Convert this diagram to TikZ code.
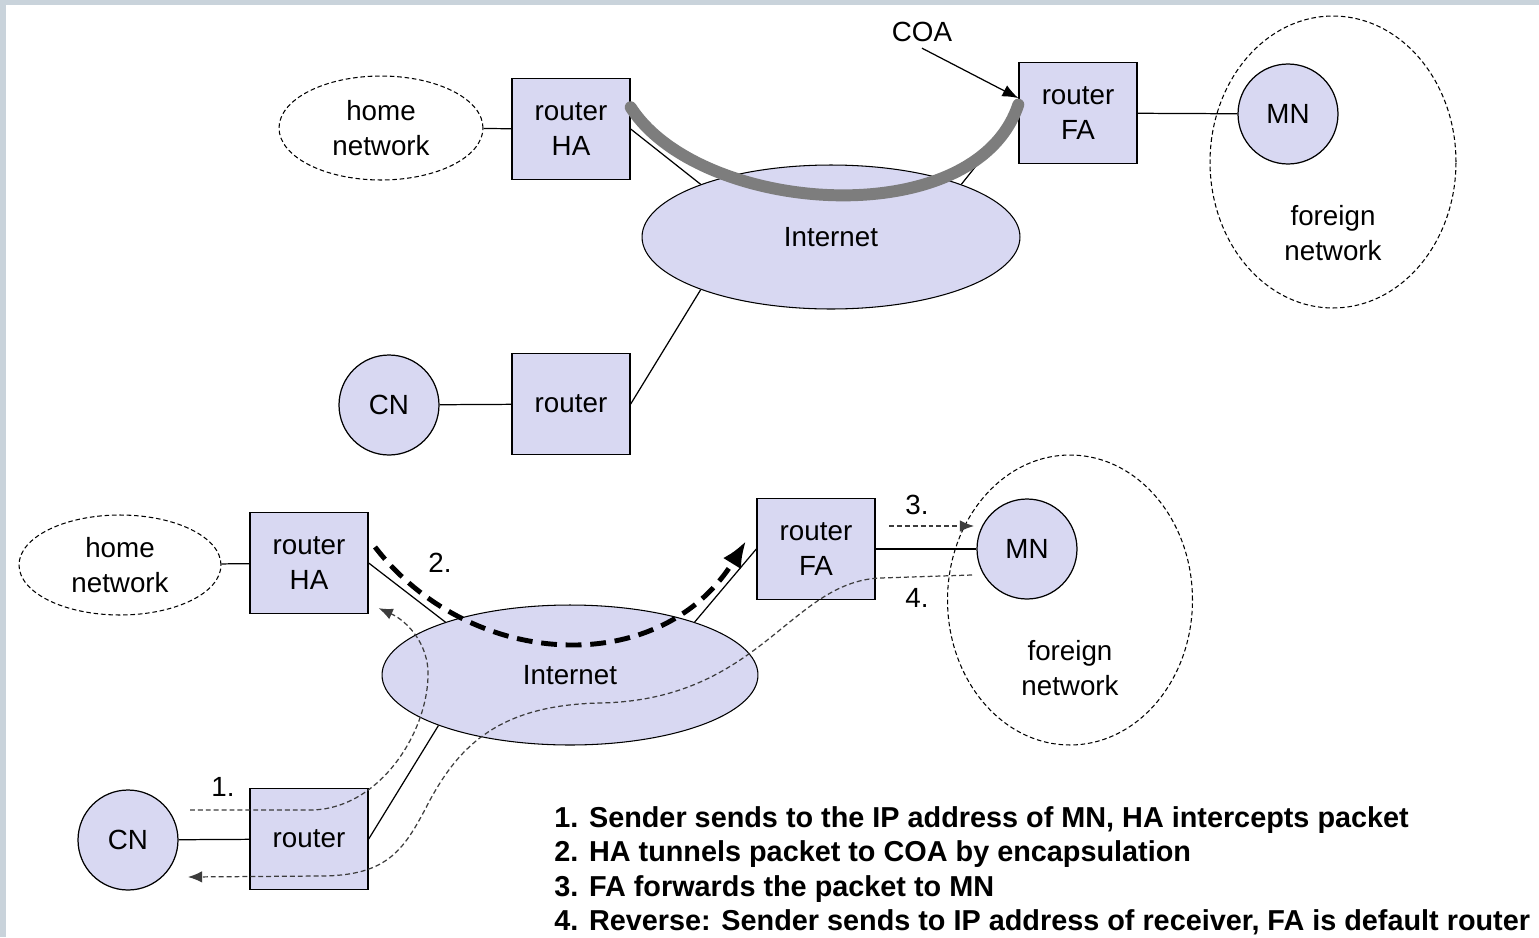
\documentclass[tikz,border=0pt]{standalone}
\usepackage{fontspec}
\setmainfont{Liberation Sans}
\usetikzlibrary{arrows.meta,shapes.geometric}

\definecolor{framegray}{RGB}{201,211,219}
\definecolor{nodefill}{RGB}{216,216,242}
\definecolor{tubegray}{RGB}{125,125,125}
\definecolor{flowgray}{RGB}{60,60,60}

\newcommand{\netfont}{\fontsize{15.8}{19.8}\selectfont}
\newcommand{\stepfont}{\fontsize{16.4}{19.6}\selectfont\bfseries}

\tikzset{
  box/.style={draw, line width=0.8pt, fill=nodefill, minimum width=2.36cm,
    minimum height=2.02cm, inner sep=0pt, align=center, font=\netfont},
  host/.style={draw, circle, line width=0.7pt, fill=nodefill, minimum size=2cm,
    inner sep=0pt, font=\netfont},
  inet/.style={draw, ellipse, line width=0.6pt, fill=nodefill, inner sep=0pt, font=\netfont},
  netarea/.style={draw, ellipse, line width=0.6pt, dash pattern=on 2.6pt off 1.6pt,
    inner sep=0pt, align=center, font=\netfont},
  lbl/.style={align=center, font=\netfont, inner sep=0pt},
  flow/.style={draw=flowgray, line width=0.7pt, dash pattern=on 2.8pt off 1.7pt},
  tunnel/.style={line width=2.8pt, dash pattern=on 9pt off 5pt,
    -{Latex[length=15pt,width=12pt]}},
  tube/.style={draw=tubegray, line width=6.8pt, line cap=round}
}

\begin{document}
\begin{tikzpicture}[x=0.02cm, y=-0.02cm]
  % frame around the slide
  \useasboundingbox (0,0) rectangle (1539,937);
  \fill[framegray] (0,0) rectangle (1539,937);
  \fill[white] (6,5) rectangle (1539,937);

  %upper drawing, define nodes first
  \node (home1) at (381,128) [netarea, minimum width=4.08cm, minimum height=2.08cm] {home\\network};
  \node (HA1) at (571,129) [box] {router\\HA};
  \node (inet1) at (831,237) [inet, minimum width=7.56cm, minimum height=2.88cm] {Internet};
  \node (FA1) at (1078,113) [box] {router\\FA};
  \node (fnet1) at (1333,162) [netarea, minimum width=4.92cm, minimum height=5.84cm] {};
  \node (fnt1) at (1333,233) [lbl] {foreign\\network};
  \node (MN1) at (1288,114) [host] {MN};
  \node (CN1) at (389,405) [host] {CN};
  \node (R1) at (571,404) [box] {router};
  \node (coa) at (922,32) [lbl] {COA};

  %links of the upper drawing
  \draw[line width=0.7pt] (home1) -- (HA1);
  \draw[line width=0.7pt] (HA1.east) -- (inet1.158);
  \draw[line width=0.7pt] (FA1.west) -- (inet1.22);
  \draw[line width=0.7pt] (R1.east) -- (inet1.202);
  \draw[line width=0.7pt] (CN1) -- (R1);
  \draw[line width=0.7pt] (FA1) -- (MN1);

  %the tunnel from HA to the care-of address
  \draw[tube] (HA1.20) .. controls (700,215) and (975,235) .. (FA1.172);
  \draw[line width=0.7pt, -{Latex[length=9pt,width=7pt]}] ([yshift=-0.12cm]coa.south) -- (FA1.166);

  %lower drawing, define nodes again
  \node (home2) at (120,565) [netarea, minimum width=4.04cm, minimum height=2cm] {home\\network};
  \node (HA2) at (309,563) [box] {router\\HA};
  \node (inet2) at (570,675) [inet, minimum width=7.52cm, minimum height=2.8cm] {Internet};
  \node (FA2) at (816,549) [box] {router\\FA};
  \node (fnet2) at (1070,600) [netarea, minimum width=4.9cm, minimum height=5.8cm] {};
  \node (fnt2) at (1070,668) [lbl] {foreign\\network};
  \node (MN2) at (1027,549) [host] {MN};
  \node (CN2) at (128,840) [host] {CN};
  \node (R2) at (309,839) [box] {router};

  %links of the lower drawing
  \draw[line width=0.7pt] (home2) -- (HA2);
  \draw[line width=0.7pt] (HA2.east) -- (inet2.157);
  \draw[line width=0.7pt] (FA2.west) -- (inet2.23);
  \draw[line width=0.7pt] (R2.east) -- (inet2.201);
  \draw[line width=0.7pt] (CN2) -- (R2);
  \draw[line width=0.7pt] (FA2) -- (MN2);

  %free ends of the packet paths
  \coordinate (p1a) at (190,810);
  \coordinate (p2a) at (375,547);
  \coordinate (p2b) at (746,541);
  \coordinate (p3a) at (889,526);
  \coordinate (p3b) at (974,526);
  \coordinate (p4a) at (972,575);
  \coordinate (p4b) at (188,877);

  %step 1: CN to HA
  \draw[flow, -{Latex[length=8pt,width=6.5pt]}] (p1a) -- (310,810)
    .. controls (380,810) and (430,730) .. (428,670)
    .. controls (426,640) and (405,620) .. ([shift={(10,-6)}]HA2.south east);
  %step 2: HA tunnels to FA
  \draw[tunnel] (p2a) .. controls (470,670) and (660,680) .. (p2b);
  %step 3: FA to MN
  \draw[flow, -{Latex[length=8pt,width=6.5pt]}] (p3a) -- (p3b);
  %step 4: MN back to CN
  \draw[flow, -{Latex[length=8pt,width=6.5pt]}] (p4a) -- (880,578)
    .. controls (790,582) and (760,700) .. (600,703)
    .. controls (500,705) and (460,745) .. (430,800)
    .. controls (405,848) and (390,876) .. (320,876) -- (p4b);

  %numbers of the steps
  \node (n1) at (223,787) [lbl] {1.};
  \node (n2) at (440,563) [lbl] {2.};
  \node (n3) at (917,505) [lbl] {3.};
  \node (n4) at (917,598) [lbl] {4.};

  %list of the steps
  \node (s1) at (554,827) [anchor=base west, inner sep=0pt, font=\stepfont] {1. Sender sends to the IP address of MN, HA intercepts packet};
  \node (s2) at (554,861) [anchor=base west, inner sep=0pt, font=\stepfont] {2. HA tunnels packet to COA by encapsulation};
  \node (s3) at (554,896) [anchor=base west, inner sep=0pt, font=\stepfont] {3. FA forwards the packet to MN};
  \node (s4) at (554,930) [anchor=base west, inner sep=0pt, font=\stepfont] {4. Reverse: Sender sends to IP address of receiver, FA is default router};
\end{tikzpicture}
\end{document}
